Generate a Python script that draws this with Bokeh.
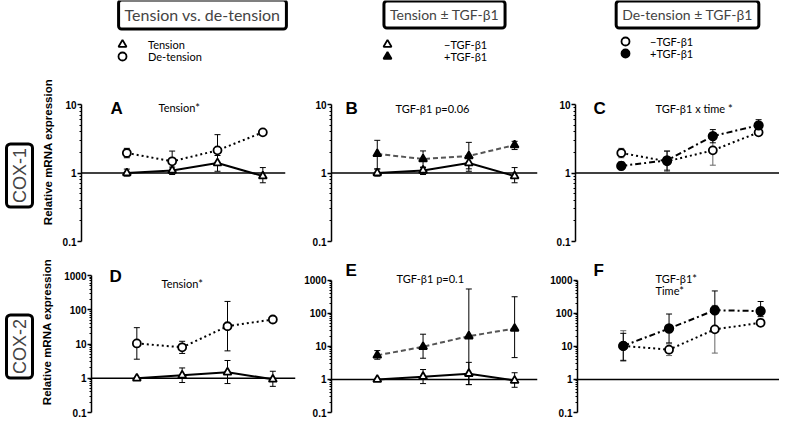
import math
from bokeh.plotting import figure
from bokeh.models import (ColumnDataSource, Whisker, TeeHead, Span, Label, Legend,
                          LegendItem, FixedTicker, NumeralTickFormatter, Range1d)
from bokeh.layouts import column, row
from bokeh.embed import file_html
from bokeh.resources import INLINE

# ---------------- data ----------------
time = [1, 2, 3, 4]

cox1_tension = [1.0, 1.09, 1.4, 0.9]
cox1_tension_lo = [0.9, 0.95, 1.06, 0.72]
cox1_tension_hi = [1.14, 1.22, 1.8, 1.2]

cox1_detension = [1.96, 1.48, 2.14, 3.92]
cox1_detension_lo = [1.67, 1.04, 1.3, 3.6]
cox1_detension_hi = [2.29, 2.09, 3.63, 4.3]

cox1_tension_tgf = [1.9, 1.6, 1.77, 2.56]
cox1_tension_tgf_lo = [1.15, 1.2, 1.15, 2.2]
cox1_tension_tgf_hi = [3.0, 2.1, 2.8, 2.9]

cox1_detension_tgf = [1.27, 1.53, 3.46, 4.97]
cox1_detension_tgf_lo = [1.12, 1.1, 2.76, 4.2]
cox1_detension_tgf_hi = [1.45, 2.09, 4.3, 6.0]

cox2_tension = [1.0, 1.22, 1.5, 0.93]
cox2_tension_lo = [1.0, 0.75, 0.7, 0.58]
cox2_tension_hi = [1.0, 2.0, 3.3, 1.6]

cox2_detension = [10.4, 8.0, 33.0, 52.0]
cox2_detension_lo = [3.6, 5.3, 6.3, 45.0]
cox2_detension_hi = [30.0, 12.0, 175.0, 60.0]

cox2_tension_tgf = [5.4, 9.8, 20.5, 35.0]
cox2_tension_tgf_lo = [4.1, 4.4, 0.7, 4.6]
cox2_tension_tgf_hi = [7.5, 23.5, 550.0, 320.0]

cox2_detension_tgf = [10.4, 35.0, 125.0, 118.0]
cox2_detension_tgf_lo = [3.8, 12.8, 35.0, 80.0]
cox2_detension_tgf_hi = [25.0, 96.0, 480.0, 230.0]

headers = ["Tension vs. de-tension", "Tension \u00b1 TGF-\u03b21", "De-tension \u00b1 TGF-\u03b21"]
legend_labels = [["Tension", "De-tension"],
                 ["\u2212TGF-\u03b21", "+TGF-\u03b21"],
                 ["\u2212TGF-\u03b21", "+TGF-\u03b21"]]
panel_letters = ["A", "B", "C", "D", "E", "F"]
row_labels = ["COX-1", "COX-2"]
y_title = "Relative mRNA expression"

TICK_FONT = "Liberation Sans"
TEXT_FONT = "Lato"
PX_PER_UNIT = 206 / 4.5

# series styles: (marker, fill, dash, line colour, size, error colour)
ST_TENSION = ("triangle", "white", "solid", "black", 8, "black")
ST_DETENSION = ("circle", "white", "2 3", "black", 8, "black")
ST_TENSION_TGF = ("triangle", "black", "5 3", "#555555", 8, "black")
ST_DETENSION_TGF = ("circle", "black", "6 3 2 3", "black", 8.5, "black")
ST_DETENSION_C = ("circle", "white", "2 3", "black", 8, "#666666")


def blank(width, height):
    p = figure(width=width, height=height, min_border=0, x_range=Range1d(0, width),
               y_range=Range1d(0, height), x_axis_location=None, y_axis_location=None,
               output_backend="svg", toolbar_location=None)
    p.outline_line_color = None
    p.grid.visible = False
    return p


def make_panel(page_left, width, height, frame_left, frame_w, bottom, decade_px, ymax_axis, majors):
    mbl = frame_left - page_left
    mbr = width - mbl - frame_w
    frame_h = height - bottom
    p = figure(width=width, height=height, min_border_left=mbl, min_border_right=mbr,
               min_border_top=0, min_border_bottom=bottom, y_axis_type="log",
               x_range=Range1d(0, frame_w / PX_PER_UNIT),
               y_range=Range1d(0.1, 10 ** (-1 + frame_h / decade_px)),
               x_axis_location=None, output_backend="svg", toolbar_location=None)
    p.outline_line_color = None
    p.grid.visible = False
    minors = []
    for m in majors[:-1]:
        minors += [m * k for k in range(2, 10)]
    ax = p.yaxis[0]
    ax.bounds = (0.1, ymax_axis)
    ax.ticker = FixedTicker(ticks=majors, minor_ticks=minors)
    ax.formatter = NumeralTickFormatter(format="0.[0]")
    ax.major_label_text_font = TICK_FONT
    ax.major_label_text_font_size = "10px"
    ax.major_label_text_font_style = "bold"
    ax.major_label_text_color = "black"
    ax.major_label_standoff = 1
    ax.major_tick_out = 4
    ax.major_tick_in = 0
    ax.minor_tick_out = 2
    ax.minor_tick_in = 0
    ax.axis_line_width = 1.5
    ax.major_tick_line_width = 1.5
    ax.minor_tick_line_width = 1
    p.add_layout(Span(location=1, dimension="width", line_color="black",
                      line_width=1.5, level="underlay"))
    return p


def set_ytitle(p, standoff):
    ax = p.yaxis[0]
    ax.axis_label = y_title
    ax.axis_label_text_font = "Liberation Sans"
    ax.axis_label_text_font_size = "11.5px"
    ax.axis_label_text_font_style = "bold"
    ax.axis_label_text_color = "black"
    ax.axis_label_standoff = standoff


def add_series(p, y, lo, hi, style):
    marker, fill, dash, color, size, err_color = style
    src = ColumnDataSource(dict(x=time, y=y, lo=lo, hi=hi))
    p.add_layout(Whisker(source=src, base="x", lower="lo", upper="hi",
                         line_color=err_color, line_width=1, level="underlay",
                         upper_head=TeeHead(size=6, line_color=err_color, line_width=1),
                         lower_head=TeeHead(size=6, line_color=err_color, line_width=1)))
    p.line("x", "y", source=src, line_color=color, line_width=2, line_dash=dash)
    return p.scatter("x", "y", source=src, marker=marker, size=size, fill_color=fill,
                     line_color="black", line_width=1.8)


def label(p, fl, fb, X, Y, text, **kw):
    opts = dict(text_font=TEXT_FONT, text_font_size="11px", text_color="black",
                text_baseline="alphabetic")
    opts.update(kw)
    p.add_layout(Label(x=X - fl, y=fb - Y, x_units="screen", y_units="screen",
                       text=text, **opts))


def letter(p, fl, fb, X, Y, text):
    label(p, fl, fb, X, Y, text, text_font="Liberation Sans", text_font_size="17px",
          text_font_style="bold")


# ---------------- header ----------------
HH = 62
hdr = blank(779, HH)
HFL, HFB = 8, 8 + HH


def header(cx, cy, text, size):
    hdr.add_layout(Label(x=cx - HFL, y=HFB - cy, x_units="screen", y_units="screen", text=text,
                         text_font=TEXT_FONT, text_font_size=size, text_align="center",
                         text_baseline="middle", border_line_color="black",
                         border_line_width=3, border_radius=3, padding=(6, 5),
                         background_fill_color="white"))


def legend_item(style, text, mx, my, standoff):
    marker, fill, dash, color, size, err_color = style
    # key-only renderer: a single NaN point, never visible in the frame
    r = hdr.scatter(x=[float("nan")], y=[float("nan")], marker=marker, size=size,
                    fill_color=fill, line_color="black", line_width=1.8)
    leg = Legend(items=[LegendItem(label=text, renderers=[r])],
                 location=(mx - 3 - HFL, HFB - my - 18), glyph_width=20, glyph_height=20,
                 label_standoff=standoff, padding=0, margin=0, spacing=0,
                 border_line_color=None, background_fill_alpha=0,
                 label_text_font=TEXT_FONT, label_text_font_size="11px",
                 label_text_color="black", label_height=12)
    hdr.add_layout(leg)


header(210, 22, headers[0], "16px")
header(452, 22, headers[1], "14px")
header(695, 22, headers[2], "14px")
legend_item(ST_TENSION, legend_labels[0][0], 123, 44, 16)
legend_item(ST_DETENSION, legend_labels[0][1], 123, 56, 16)
legend_item(ST_TENSION, legend_labels[1][0], 388, 44, 47)
legend_item(ST_TENSION_TGF, legend_labels[1][1], 388, 56, 47)
legend_item(ST_DETENSION, legend_labels[2][0], 626, 41, 15)
legend_item(ST_DETENSION_TGF, legend_labels[2][1], 626, 53, 15)


def row_box(width, height, cy_from_bottom, text):
    p = blank(width, height)
    p.add_layout(Label(x=19, y=cy_from_bottom, x_units="screen", y_units="screen", text=text,
                       angle=90, angle_units="deg", text_font="Liberation Sans",
                       text_font_size="18px", text_align="center", text_baseline="middle",
                       border_line_color="black", border_line_width=3, border_radius=4,
                       padding=(4, 3), background_fill_color="white"))
    return p


# ---------------- row 1 (COX-1) ----------------
H1, H2 = 189, 173
top_majors = [0.1, 1, 10]
bot_majors = [0.1, 1, 10, 100, 1000]
FB1 = 8 + HH + H1 - 10

box1 = row_box(38, H1, 66, row_labels[0])
pA = make_panel(46, 254, H1, 87, 206, 10, 68.5, 10, top_majors)
pB = make_panel(300, 255, H1, 339, 206, 10, 68.5, 10, top_majors)
pC = make_panel(555, 232, H1, 583, 204, 10, 68.5, 10, top_majors)

add_series(pA, cox1_tension, cox1_tension_lo, cox1_tension_hi, ST_TENSION)
add_series(pA, cox1_detension, cox1_detension_lo, cox1_detension_hi, ST_DETENSION)
add_series(pB, cox1_tension, cox1_tension_lo, cox1_tension_hi, ST_TENSION)
add_series(pB, cox1_tension_tgf, cox1_tension_tgf_lo, cox1_tension_tgf_hi, ST_TENSION_TGF)
add_series(pC, cox1_detension, cox1_detension_lo, cox1_detension_hi, ST_DETENSION_C)
add_series(pC, cox1_detension_tgf, cox1_detension_tgf_lo, cox1_detension_tgf_hi, ST_DETENSION_TGF)
set_ytitle(pA, 6)

letter(pA, 87, FB1, 116, 116, panel_letters[0])
label(pA, 87, FB1, 164, 115, "Tension*")
letter(pB, 339, FB1, 353, 116, panel_letters[1])
label(pB, 339, FB1, 403, 116, "TGF-\u03b21 p=0.06")
letter(pC, 583, FB1, 601, 116, panel_letters[2])
label(pC, 583, FB1, 663, 116, "TGF-\u03b21 x time *")

# ---------------- row 2 (COX-2) ----------------
FBD = 8 + HH + H1 + H2 - 12
FBE = 8 + HH + H1 + H2 - 6

box2 = row_box(38, H2, 66, row_labels[1])
pD = make_panel(46, 262, H2, 97, 206, 12, 34.25, 1000, bot_majors)
pE = make_panel(308, 247, H2, 339, 206, 6, 34.25, 1000, bot_majors)
pF = make_panel(555, 232, H2, 585, 202, 6, 34.25, 1000, bot_majors)

add_series(pD, cox2_tension, cox2_tension_lo, cox2_tension_hi, ST_TENSION)
add_series(pD, cox2_detension, cox2_detension_lo, cox2_detension_hi, ST_DETENSION)
add_series(pE, cox2_tension, cox2_tension_lo, cox2_tension_hi, ST_TENSION)
add_series(pE, cox2_tension_tgf, cox2_tension_tgf_lo, cox2_tension_tgf_hi, ST_TENSION_TGF)
add_series(pF, cox2_detension, cox2_detension_lo, cox2_detension_hi, ST_DETENSION_C)
add_series(pF, cox2_detension_tgf, cox2_detension_tgf_lo, cox2_detension_tgf_hi, ST_DETENSION_TGF)
set_ytitle(pD, 8)

letter(pD, 97, FBD, 115, 284, panel_letters[3])
label(pD, 97, FBD, 167, 291, "Tension*")
letter(pE, 339, FBE, 353, 284, panel_letters[4])
label(pE, 339, FBE, 404, 292, "TGF-\u03b21 p=0.1")
letter(pF, 585, FBE, 601, 284, panel_letters[5])
label(pF, 585, FBE, 663, 292, "TGF-\u03b21*")
label(pF, 585, FBE, 663, 304, "Time*")

layout = column(hdr,
                row(box1, pA, pB, pC, spacing=0),
                row(box2, pD, pE, pF, spacing=0), spacing=0)

open("out.html", "w").write(file_html(layout, INLINE))
